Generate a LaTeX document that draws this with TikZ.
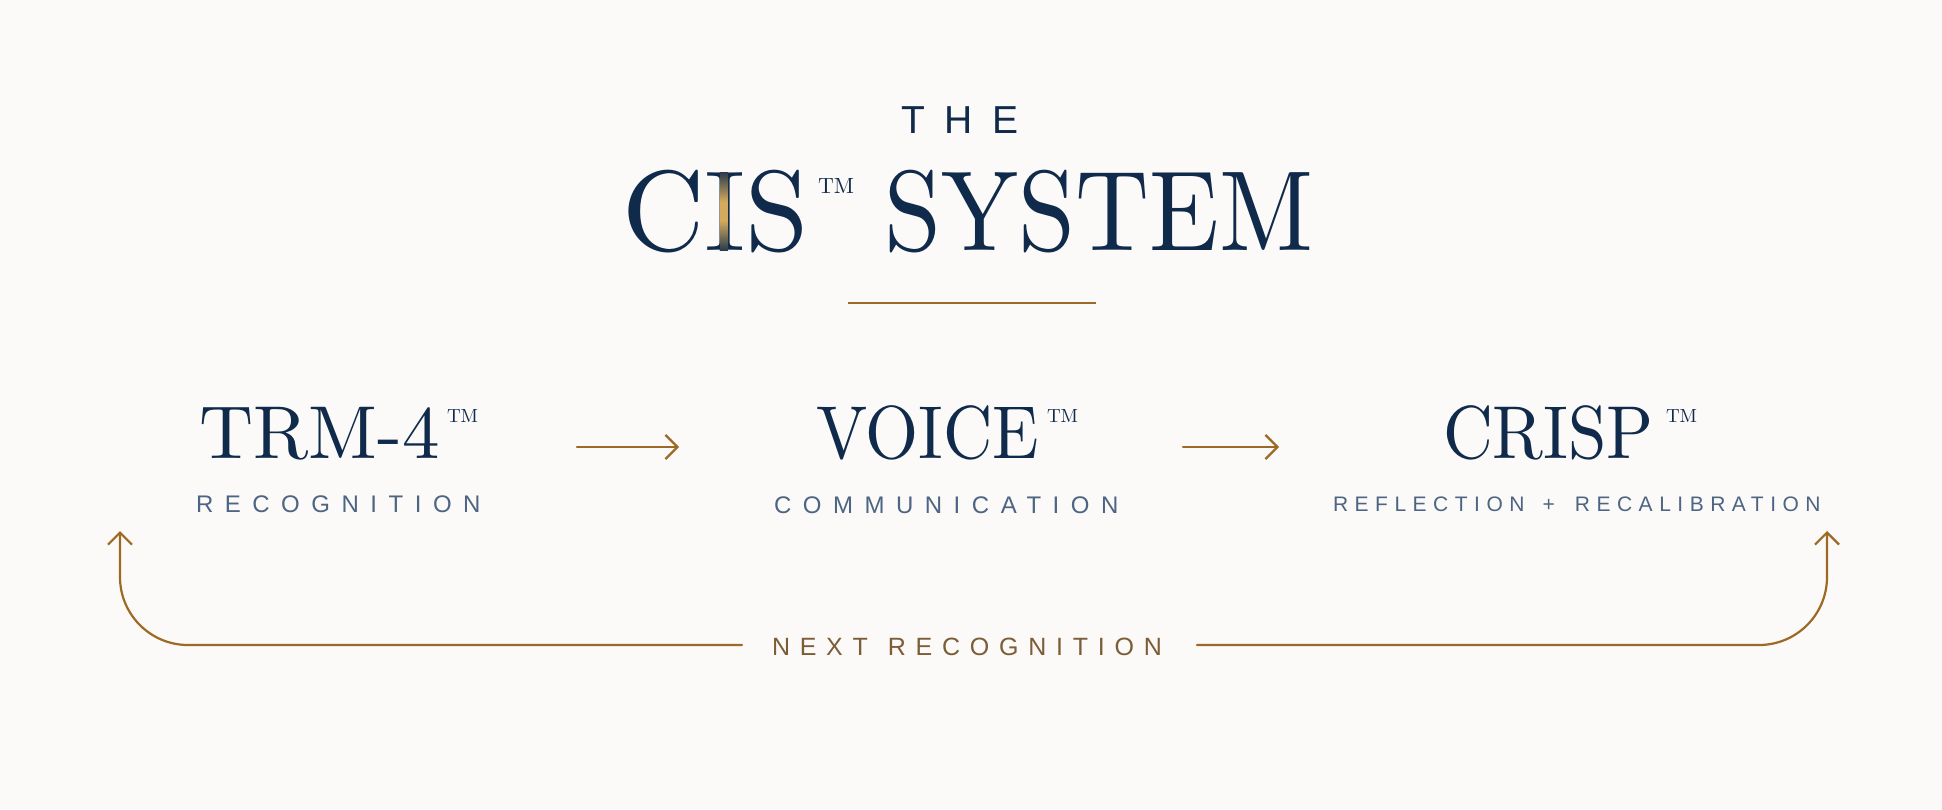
\documentclass[tikz,border=0pt]{standalone}
\usepackage{fontspec}
\usepackage{graphicx}
\usetikzlibrary{arrows.meta,fadings}
\newfontfamily\titleserif{lmroman10-regular}[Extension=.otf]
\newfontfamily\sansthe{Liberation Sans}[LetterSpace=50]
\newfontfamily\sanslab{Liberation Sans}[LetterSpace=48]
\newfontfamily\sanssmall{Liberation Sans}[LetterSpace=31]
\newfontfamily\sansnext{Liberation Sans}[LetterSpace=39]
\definecolor{navy}{HTML}{0F2A4A}
\definecolor{slate}{HTML}{4D6482}
\definecolor{gold}{HTML}{9C6A25}
\definecolor{goldtext}{HTML}{7C5D37}
\definecolor{goldhi}{HTML}{D4AA5C}
\definecolor{bg}{HTML}{FBFAF8}
\pgfdeclareverticalshading{igold}{100bp}{color(0bp)=(navy); color(22bp)=(navy); color(44bp)=(goldhi); color(56bp)=(goldhi); color(78bp)=(navy); color(100bp)=(navy)}
\begin{tikzfadingfrompicture}[name=ifade]
  \node[inner sep=0pt, outer sep=0pt, text=white, font=\titleserif\fontsize{114}{114}\selectfont] {I};
\end{tikzfadingfrompicture}
\tikzset{
  txt/.style={inner sep=0pt, outer sep=0pt},
  titlef/.style={txt, text=navy, font=\titleserif\fontsize{114}{114}\selectfont},
  stagef/.style={txt, text=navy, font=\titleserif\fontsize{75}{75}\selectfont},
  tmbig/.style={txt, text=navy, font=\titleserif\fontsize{22}{22}\selectfont, anchor=north west},
  tmsmall/.style={txt, text=navy, font=\titleserif\fontsize{19}{19}\selectfont, anchor=north west},
  lab/.style={txt, text=slate, font=\sanslab\fontsize{24}{24}\selectfont, anchor=base west},
  link/.style={draw=gold, line width=2.2pt, line cap=round, line join=round, -{Straight Barb[length=12pt,width=24pt,line width=2.2pt]}},
}
\begin{document}
\begin{tikzpicture}[x=1pt,y=-1pt]
  \useasboundingbox[fill=bg] (0,0) rectangle (1942,809);
  % heading
  \node[txt, text=navy, font=\sansthe\fontsize{39}{39}\selectfont, anchor=base west] (the) at (901,133) {THE};
  \node[titlef, anchor=base west] (tC) at (622,250) {C};
  \node[titlef, anchor=base west] (tI) at (tC.base east) {I};
  \node[titlef, anchor=base west] (tS) at (tI.base east) {S};
  \path[shading=igold, path fading=ifade] (tI.south west) rectangle (tI.north east);
  \node[tmbig] (ttm) at (818,178) {TM};
  \node[titlef, anchor=base west] (tsys) at (884,250) {\scalebox{0.9}[1]{SYSTEM}};
  \draw[draw=gold, line width=2.2pt] (848,303) coordinate (r1) -- (1096,303) coordinate (r2);
  % stages
  \node[stagef, anchor=base west] (trm) at (199,458) {TRM-4};
  \node[tmsmall] (trmtm) at (447,410) {TM};
  \node[lab] (rec) at (196,512) {RECOGNITION};
  \node[stagef, anchor=base west] (voice) at (816,458) {\scalebox{0.91}[1]{VOICE}};
  \node[tmsmall] (voicetm) at (1047,410) {TM};
  \node[lab] (com) at (774,513) {COMMUNICATION};
  \node[stagef, anchor=base west] (crisp) at (1443,458) {\scalebox{0.92}[1]{CRISP}};
  \node[tmsmall] (crisptm) at (1666,410) {TM};
  \node[txt, text=slate, font=\sanssmall\fontsize{21}{21}\selectfont, anchor=base west] (refl) at (1333,511) {REFLECTION\rule{18pt}{0pt}+\rule{20pt}{0pt}RECALIBRATION};
  % forward arrows
  \coordinate (a1s) at (577,447);
  \coordinate (a1e) at (679,447);
  \coordinate (a2s) at (1183,447);
  \coordinate (a2e) at (1279,447);
  \draw[link] (a1s) -- (a1e);
  \draw[link] (a2s) -- (a2e);
  % loop
  \node[txt, text=goldtext, font=\sansnext\fontsize{25}{25}\selectfont, anchor=base west] (next) at (772,655) {NEXT\rule{20pt}{0pt}RECOGNITION};
  \coordinate (ls) at (742,645);
  \coordinate (lc) at (120,645);
  \coordinate (lt) at (120,531);
  \coordinate (rs) at (1197,645);
  \coordinate (rc) at (1827,645);
  \coordinate (rt) at (1827,531);
  \draw[link, rounded corners=68pt] (ls) -- (lc) -- (lt);
  \draw[link, rounded corners=68pt] (rs) -- (rc) -- (rt);
\end{tikzpicture}
\end{document}
